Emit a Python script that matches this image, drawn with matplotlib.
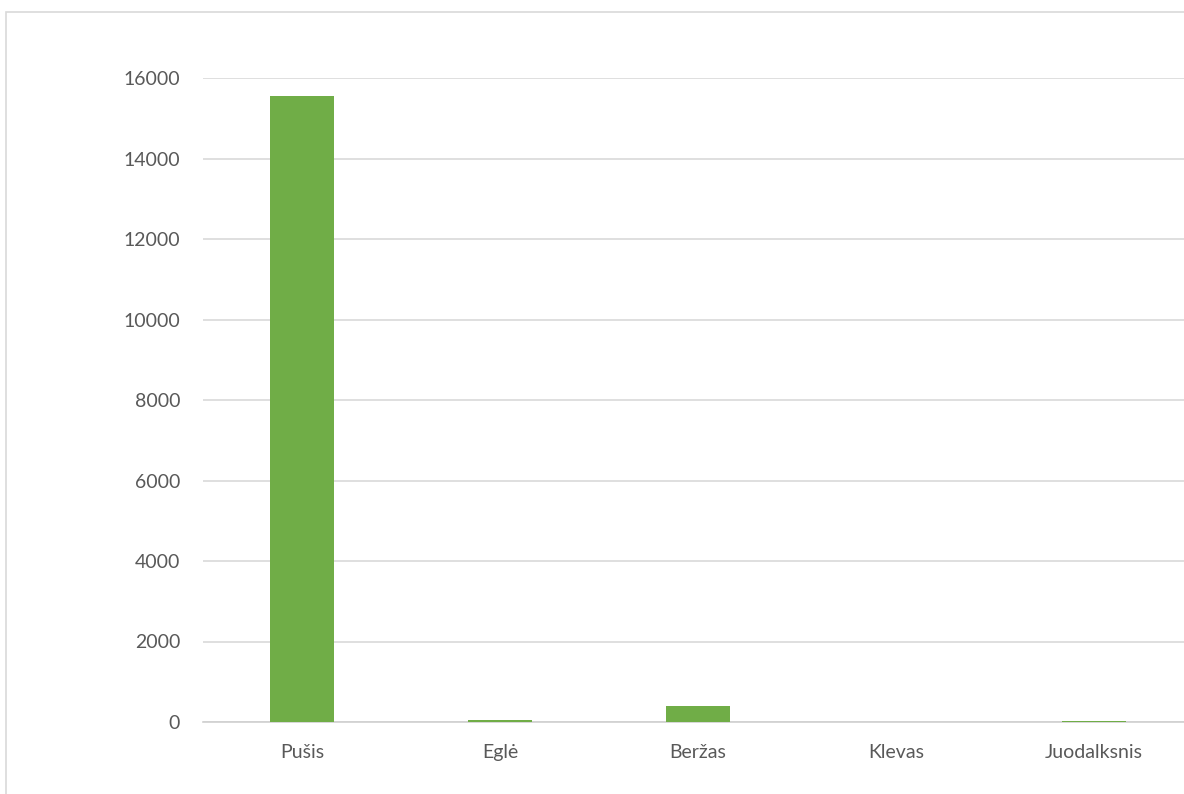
import matplotlib
matplotlib.use('Agg')
import matplotlib.pyplot as plt
from matplotlib.patches import Rectangle

# data
species = ['Pušis', 'Eglė', 'Beržas', 'Klevas', 'Juodalksnis']
counts = [15560, 55, 400, 0, 15]
yticks = [0, 2000, 4000, 6000, 8000, 10000, 12000, 14000, 16000]

BAR_COLOR = '#70ad47'
GRID_COLOR = '#d9d9d9'
TEXT_COLOR = '#595959'

plt.rcParams['font.family'] = ['Lato', 'DejaVu Sans']

W, H = 1184, 794
fig = plt.figure(figsize=(W / 100, H / 100), dpi=100)

# chart frame (the reference is cropped, frame runs off right/bottom)
fig.patches.append(Rectangle((6 / W, -0.1), 1.2, 1 - 12 / H + 0.1,
                             transform=fig.transFigure, fill=False,
                             edgecolor=GRID_COLOR, lw=1.2))

# plot area: left 203px, 5 categories of ~198px, zero line at y=722, top at 78
ax = fig.add_axes([203 / W, 72 / H, 5 * 198 / W, 644 / H])
x = range(len(species))
ax.bar(x, counts, width=0.32, color=BAR_COLOR, zorder=3)

ax.set_xlim(-0.5, len(species) - 0.5)
ax.set_ylim(0, 16000)
ax.set_yticks(yticks)
ax.set_xticks(list(x))
ax.set_xticklabels(species)
ax.yaxis.grid(True, color=GRID_COLOR, lw=1.2, zorder=0)
ax.set_axisbelow(True)

for s in ['top', 'right', 'left']:
    ax.spines[s].set_visible(False)
ax.spines['bottom'].set_color('#d0d0d0')
ax.spines['bottom'].set_linewidth(1.2)

ax.tick_params(axis='y', length=0, pad=16.5, labelsize=14, labelcolor=TEXT_COLOR)
ax.tick_params(axis='x', length=0, pad=16, labelsize=14, labelcolor=TEXT_COLOR)

fig.savefig('out.png', dpi=100)
